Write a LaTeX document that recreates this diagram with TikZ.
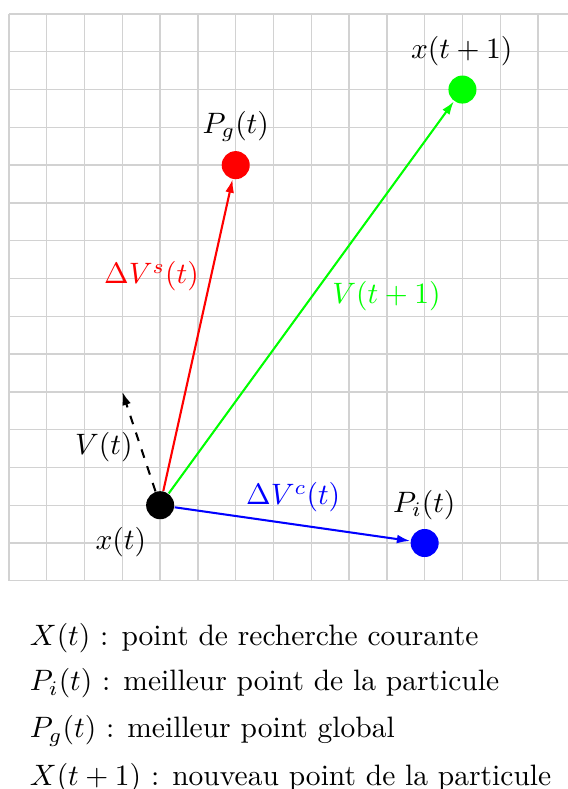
\documentclass[tikz,border=0pt]{standalone}
\usetikzlibrary{arrows.meta}
\begin{document}
\begin{tikzpicture}[x=0.45cm,y=0.45cm,
  dot/.style={circle,fill,inner sep=0pt,minimum size=9.5pt},
  vec/.style={line width=0.7pt,-{Latex[length=4.5pt,width=3pt]}},
  lbl/.style={anchor=base,inner sep=0pt},
  legend/.style={anchor=base west,inner sep=0pt}]
\useasboundingbox (-0.238,0.370) rectangle (14.79,-20.51);
\draw[gray!35,line width=0.45pt,step=1] (0,0) grid (14.79,-15);
% points
\node[dot,black] (xt) at (4,-13) {};
\node[dot,red] (pg) at (6,-4) {};
\node[dot,green] (xt1) at (12,-2) {};
\node[dot,blue] (pi) at (11,-14) {};
\coordinate (vt) at (3,-10);
% vectors
\draw[vec,dashed] (xt) -- (vt);
\draw[vec,red] (xt) -- (pg);
\draw[vec,green] (xt) -- (xt1);
\draw[vec,blue] (xt) -- (pi);
% labels
\node[lbl] (lxt1) at (11.98,-1.19) {$x(t+1)$};
\node[lbl] (lpg) at (6,-3.15) {$P_g(t)$};
\node[lbl,red] (lds) at (3.77,-7.14) {$\Delta V^s(t)$};
\node[lbl,green] (lv1) at (9.99,-7.65) {$V(t+1)$};
\node[lbl,blue] (ldc) at (7.52,-12.99) {$\Delta V^c(t)$};
\node[lbl] (lvt) at (2.51,-11.67) {$V(t)$};
\node[lbl] (lxt) at (2.96,-14.18) {$x(t)$};
\node[lbl] (lpi) at (10.99,-13.18) {$P_i(t)$};
% legend
\node[legend] (leg1) at (0.54,-16.70) {$X(t)$ : point de recherche courante};
\node[legend] (leg2) at (0.54,-17.91) {$P_i(t)$ : meilleur point de la particule};
\node[legend] (leg3) at (0.54,-19.16) {$P_g(t)$ : meilleur point global};
\node[legend] (leg4) at (0.54,-20.43) {$X(t+1)$ : nouveau point de la particule};
\end{tikzpicture}
\end{document}
